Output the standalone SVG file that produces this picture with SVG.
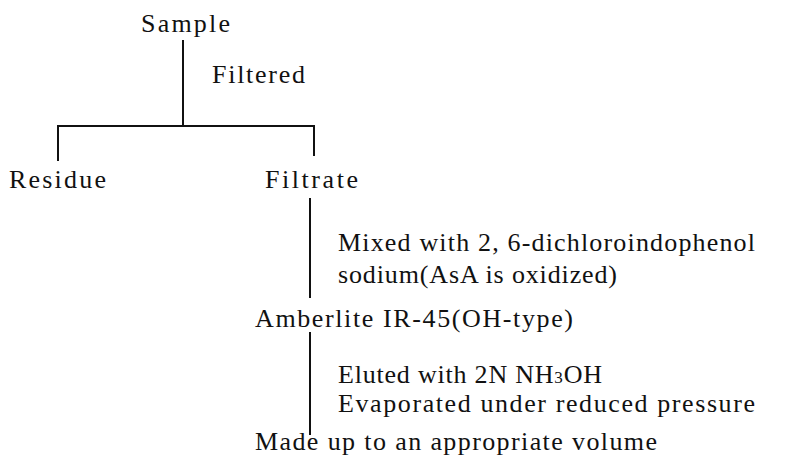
<svg xmlns="http://www.w3.org/2000/svg" width="790" height="465" viewBox="0 0 790 465">
<style>
text{font-family:"Liberation Serif","Times New Roman",serif;font-size:26px;fill:#111}
.ln{stroke:#111;stroke-width:2;fill:none}
</style>
<rect width="790" height="465" fill="#fff"/>
<g id="connectors">
<path class="ln" d="M183 40V126"/>
<path class="ln" d="M58 161V126H314V156"/>
<path class="ln" d="M310 198V298"/>
<path class="ln" d="M310 332V435"/>
</g>
<g id="sample"><text x="141" y="32" textLength="89" lengthAdjust="spacing">Sample</text></g>
<g id="filtered"><text x="212" y="83" textLength="93" lengthAdjust="spacing">Filtered</text></g>
<g id="residue"><text x="9" y="188" textLength="97" lengthAdjust="spacing">Residue</text></g>
<g id="filtrate"><text x="265" y="188" textLength="93" lengthAdjust="spacing">Filtrate</text></g>
<g id="mixed">
<text x="338" y="251" textLength="417" lengthAdjust="spacing">Mixed with 2, 6-dichloroindophenol</text>
<text x="338" y="283" textLength="279" lengthAdjust="spacing">sodium(AsA is oxidized)</text>
</g>
<g id="amberlite"><text x="255" y="327" textLength="318" lengthAdjust="spacing">Amberlite IR-45(OH-type)</text></g>
<g id="eluted">
<text x="338" y="383" textLength="264" lengthAdjust="spacing">Eluted with 2N NH<tspan font-size="17">3</tspan>OH</text>
<text x="338" y="412" textLength="417" lengthAdjust="spacing">Evaporated under reduced pressure</text>
</g>
<g id="madeup"><text x="255" y="450" textLength="402" lengthAdjust="spacing">Made up to an appropriate volume</text></g>
</svg>
